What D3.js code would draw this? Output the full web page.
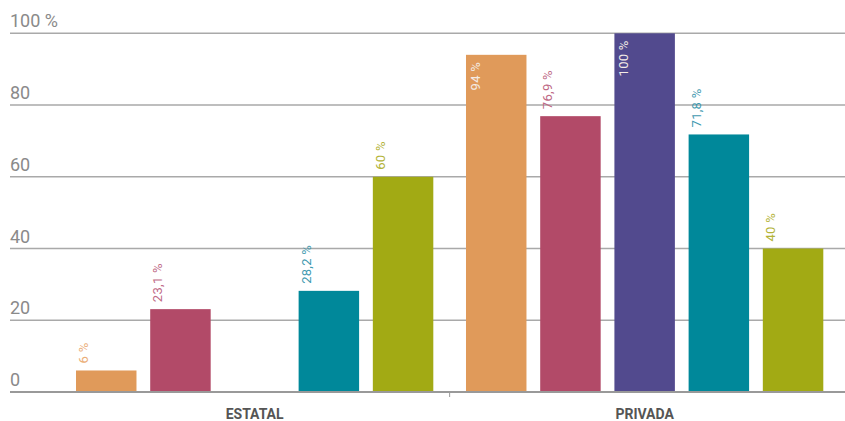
<!DOCTYPE html>
<html>
<head>
<meta charset="utf-8">
<script src="https://cdn.jsdelivr.net/npm/d3@7"></script>
<style>
  html, body { margin: 0; padding: 0; background: #fff; }
  svg { display: block; }
</style>
</head>
<body>
<svg id="chart" width="845" height="421"></svg>
<script>
// Sectors on the x axis
const groups = ["ESTATAL", "PRIVADA"];
// Five series per sector (no legend in the chart)
const seriesKeys = ["s1", "s2", "s3", "s4", "s5"];
const seriesColors = ["#E09A5A", "#B24A68", "#524A8E", "#00889A", "#A2AA14"];
const labelColors = ["#EBAE78", "#C06A86", "#7A74AE", "#3F9AB0", "#B3B338"];
// Percentages per sector, in series order (null = no bar)
const estatalValues = [6, 23.1, null, 28.2, 60];
const privadaValues = [94, 76.9, 100, 71.8, 40];
const yTicks = [0, 20, 40, 60, 80, 100];
const yTickLabels = ["0", "20", "40", "60", "80", "100 %"];

const valuesByGroup = { "ESTATAL": estatalValues, "PRIVADA": privadaValues };
const rows = [];
groups.forEach(g => {
  valuesByGroup[g].forEach((v, i) => {
    if (v !== null) rows.push({ group: g, key: seriesKeys[i], idx: i, value: v });
  });
});

const svg = d3.select("#chart");
const fmt = v => String(v).replace(".", ",") + " %";

const y = d3.scaleLinear().domain([0, 100]).range([392, 33.3]);
const x0 = d3.scaleBand().domain(groups).range([76, 823.3])
  .paddingInner(0.0838).paddingOuter(0);
const x1 = d3.scaleBand().domain(seriesKeys).range([0, x0.bandwidth()])
  .paddingInner(0.185).paddingOuter(0);

const gridLeft = 10, gridRight = 845;

// Horizontal gridlines
svg.append("g").selectAll("line")
  .data(yTicks.filter(t => t > 0))
  .join("line")
  .attr("x1", gridLeft).attr("x2", gridRight)
  .attr("y1", d => y(d)).attr("y2", d => y(d))
  .attr("stroke", "#a9a9a9").attr("stroke-width", 1.5);

// Y tick labels sit above their gridlines
svg.append("g").selectAll("text")
  .data(yTicks)
  .join("text")
  .attr("x", gridLeft)
  .attr("y", d => y(d) - 6)
  .attr("font-family", "Roboto, 'Open Sans', sans-serif")
  .attr("font-size", 18)
  .attr("fill", "#8a8a8a")
  .text((d, i) => yTickLabels[i]);

// Bars
svg.append("g").selectAll("rect")
  .data(rows)
  .join("rect")
  .attr("x", d => x0(d.group) + x1(d.key))
  .attr("y", d => y(d.value))
  .attr("width", x1.bandwidth())
  .attr("height", d => y(0) - y(d.value))
  .attr("fill", d => seriesColors[d.idx]);

// Rotated value labels: inside the top of tall bars, above the rest
svg.append("g").selectAll("text")
  .data(rows)
  .join("text")
  .attr("transform", d => {
    const inside = d.value > 90;
    const bx = x0(d.group) + x1(d.key) + (inside ? 14 : 12);
    const by = inside ? y(d.value) + 7 : y(d.value) - 7;
    return `translate(${bx},${by}) rotate(-90)`;
  })
  .attr("text-anchor", d => d.value > 90 ? "end" : "start")
  .attr("font-family", "Roboto, 'Open Sans', sans-serif")
  .attr("font-size", 13)
  .attr("letter-spacing", 0.3)
  .attr("fill", d => d.value > 90 ? "#f4ece6" : labelColors[d.idx])
  .text(d => fmt(d.value));

// Baseline axis
svg.append("line")
  .attr("x1", gridLeft).attr("x2", gridRight)
  .attr("y1", y(0)).attr("y2", y(0))
  .attr("stroke", "#999").attr("stroke-width", 2);

// Separator tick between sectors
const sepX = (x0("ESTATAL") + x0.bandwidth() + x0("PRIVADA")) / 2;
svg.append("line")
  .attr("x1", sepX).attr("x2", sepX)
  .attr("y1", y(0)).attr("y2", y(0) + 5)
  .attr("stroke", "#999").attr("stroke-width", 1);

// Sector labels
svg.append("g").selectAll("text")
  .data(groups)
  .join("text")
  .attr("x", d => x0(d) + x0.bandwidth() / 2)
  .attr("y", 419)
  .attr("text-anchor", "middle")
  .attr("font-family", "Roboto, 'Open Sans', sans-serif")
  .attr("font-weight", "bold")
  .attr("font-size", 14)
  .attr("fill", "#555")
  .text(d => d);
</script>
</body>
</html>
